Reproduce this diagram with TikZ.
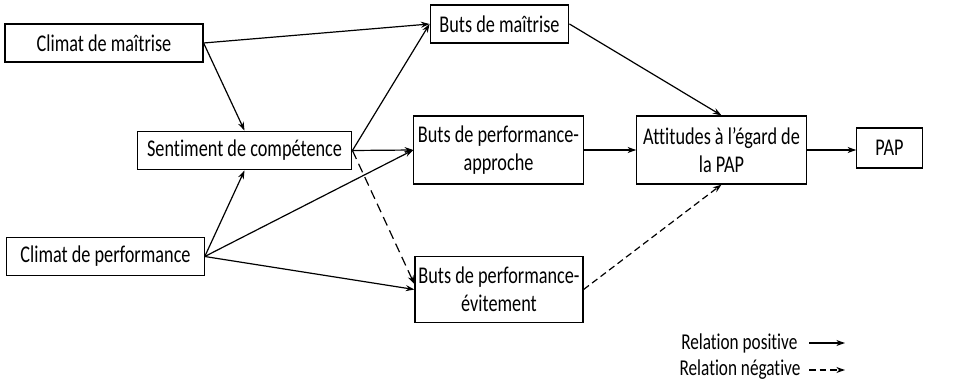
\documentclass[tikz,border=0pt]{standalone}
\usepackage{fontspec}
\setmainfont{Carlito}[FakeStretch=0.76, Ligatures=NoCommon]
\usetikzlibrary{arrows.meta}
\begin{document}
\begin{tikzpicture}[x=0.75pt, y=-0.75pt, line width=0.9pt, >={Stealth[length=6.5pt, width=4.5pt]},
  box/.style={draw, rectangle, inner sep=0pt, align=center, font=\fontsize{18}{21}\selectfont},
  neg/.style={dash pattern=on 5pt off 3pt}]
\useasboundingbox (0,0) rectangle (953,381);
\node (1) at (104, 43) [box, minimum width = 148.5pt, minimum height = 28.5pt] {Climat de maîtrise};
\node (2) at (244.5, 150.5) [box, minimum width = 161pt, minimum height = 29pt] {Sentiment de compétence};
\node (3) at (105.5, 256.5) [box, minimum width = 148pt, minimum height = 29pt] {Climat de performance};
\node (4) at (499.5, 24) [box, minimum width = 104pt, minimum height = 28.5pt] {Buts de maîtrise};
\node (5) at (498.5, 150) [box, minimum width = 127pt, minimum height = 51pt] {Buts de performance-\\approche};
\node (6) at (499, 289.5) [box, minimum width = 126pt, minimum height = 50pt] {Buts de performance-\\évitement};
\node (7) at (721.5, 150) [box, minimum width = 127pt, minimum height = 51pt] {Attitudes à l’égard de\\la PAP};
\node (8) at (889.5, 148) [box, minimum width = 49pt, minimum height = 30pt] {PAP};
\draw[->] (1.east) to (4.west);
\draw[->] (1.east) to (2.north);
\draw[->] (3.east) to (2.south);
\draw[->] (3.east) to (5.west);
\draw[->] (3.east) to (6.west);
\draw[->] (2.east) to (4.west);
\draw[->] (2.east) to (5.west);
\draw[->, neg, dash pattern=on 7pt off 4pt] (2.east) to ([yshift=4pt]6.west);
\draw[->] (4.east) to (7.north);
\draw[->] (5.east) to (7.west);
\draw[->, neg] (6.east) to (7.south);
\draw[->] (7.east) to ([yshift=-1.5pt]8.west);
% legende
\node (pos) at (798, 343) [anchor=east, inner sep=0pt, font=\fontsize{17}{18}\selectfont] {Relation positive};
\node (neg) at (801, 370) [anchor=east, inner sep=0pt, font=\fontsize{17}{18}\selectfont] {Relation négative};
\coordinate (p1) at (809, 343);
\coordinate (p2) at (845, 343);
\coordinate (n1) at (809, 370);
\coordinate (n2) at (845, 370);
\draw[->] (p1) to (p2);
\draw[->, neg] (n1) to (n2);
\end{tikzpicture}
\end{document}
